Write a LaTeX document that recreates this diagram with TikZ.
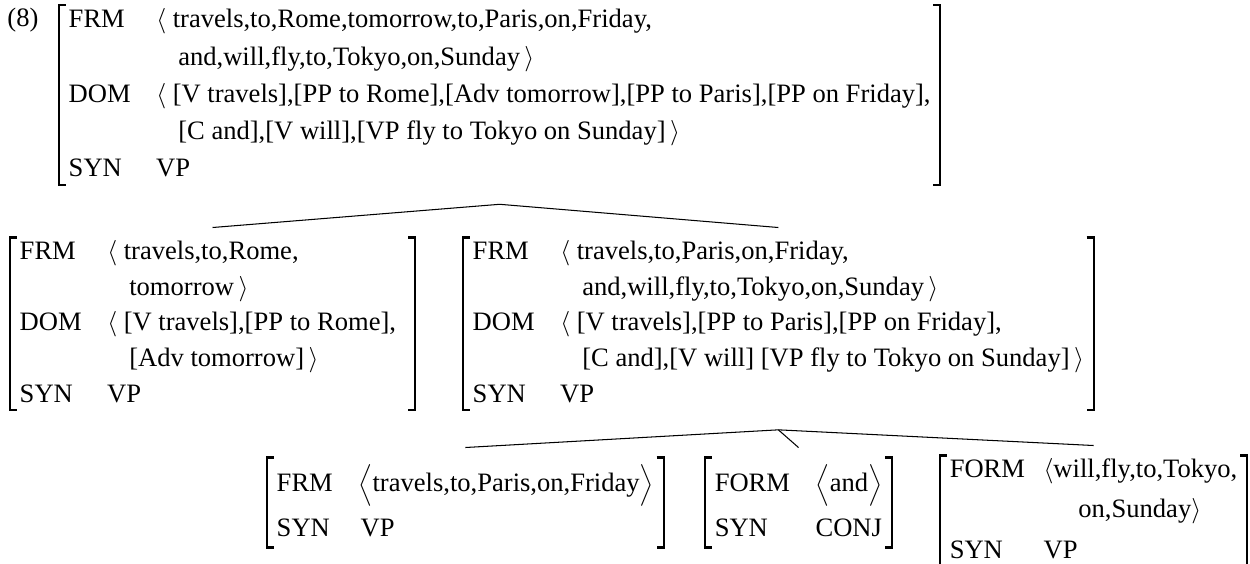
\documentclass[tikz,border=0pt]{standalone}
\usepackage{fontspec}
\setmainfont{Liberation Serif}
\newcommand{\avmfont}{\fontsize{11.45}{15.4}\selectfont}
\newcommand{\avmtopfont}{\fontsize{11.45}{16}\selectfont}
\tikzset{
  avm/.style={inner xsep=4pt, inner ysep=0pt, anchor=north west, font=\avmfont},
  txt/.style={anchor=base west, inner sep=0pt, font=\avmfont},
  brk/.style={line width=0.9pt},
  treeedge/.style={line width=0.45pt},
}
\newcommand{\avmbrk}[1]{%
  \draw[brk] ([xshift=3pt,yshift=-1.5pt]#1.north west) -- ([yshift=-1.5pt]#1.north west)
    -- ([yshift=1.5pt]#1.south west) -- ([xshift=3pt,yshift=1.5pt]#1.south west);
  \draw[brk] ([xshift=-3pt,yshift=-1.5pt]#1.north east) -- ([yshift=-1.5pt]#1.north east)
    -- ([yshift=1.5pt]#1.south east) -- ([xshift=-3pt,yshift=1.5pt]#1.south east);}
\begin{document}
\begin{tikzpicture}[x=0.431pt,y=-0.431pt]
\useasboundingbox (0,0) rectangle (1250,563);
% ---------- top AVM ----------
\node[txt] (num) at (7,26.5) {(8)};
\node[avm, font=\avmtopfont] (A) at (59,1.5) {\begin{tabular}{@{}l@{\hspace{11pt}}l@{}}
FRM & $\langle$ travels,to,Rome,tomorrow,to,Paris,on,Friday,\\
    & \hspace{9.5pt}and,will,fly,to,Tokyo,on,Sunday\,$\rangle$\\
DOM & $\langle$ [V travels],[PP to Rome],[Adv tomorrow],[PP to Paris],[PP on Friday],\\
    & \hspace{9.5pt}[C and],[V will],[VP fly to Tokyo on Sunday]\,$\rangle$\\
SYN & VP
\end{tabular}};
\avmbrk{A}
% ---------- second level ----------
\node[avm] (B) at (10,234) {\begin{tabular}{@{}l@{\hspace{11pt}}l@{\hspace{4pt}}}
FRM & $\langle$ travels,to,Rome,\\
    & \hspace{9.5pt}tomorrow\,$\rangle$\\
DOM & $\langle$ [V travels],[PP to Rome],\\
    & \hspace{9.5pt}[Adv tomorrow]\,$\rangle$\\
SYN & VP
\end{tabular}};
\avmbrk{B}
\node[avm] (C) at (463,234) {\begin{tabular}{@{}l@{\hspace{11pt}}l@{}}
FRM & $\langle$ travels,to,Paris,on,Friday,\\
    & \hspace{9.5pt}and,will,fly,to,Tokyo,on,Sunday\,$\rangle$\\
DOM & $\langle$ [V travels],[PP to Paris],[PP on Friday],\\
    & \hspace{9.5pt}[C and],[V will] [VP fly to Tokyo on Sunday]\,$\rangle$\\
SYN & VP
\end{tabular}};
\avmbrk{C}
% ---------- third level ----------
\node[avm] (D) at (267,454) {\begin{tabular}{@{}l@{\hspace{11pt}}l@{}}
FRM & \rule{0pt}{16pt}$\Big\langle$travels,to,Paris,on,Friday$\Big\rangle$\\[4pt]
SYN & \hspace{1pt}VP\rule[-6pt]{0pt}{6pt}
\end{tabular}};
\avmbrk{D}
\node[avm] (E) at (705,454) {\begin{tabular}{@{}l@{\hspace{11pt}}l@{}}
FORM & \rule{0pt}{16pt}$\Big\langle$and$\Big\rangle$\\[4pt]
SYN  & CONJ\rule[-6pt]{0pt}{6pt}
\end{tabular}};
\avmbrk{E}
\node[avm] (F) at (940,452) {\begin{tabular}{@{}l@{\hspace{8pt}}l@{}}
FORM & $\langle$will,fly,to,Tokyo,\\[2pt]
     & \hspace{15pt}on,Sunday$\rangle$\\[2pt]
SYN  & VP
\end{tabular}};
\avmbrk{F}
% ---------- tree edges ----------
\coordinate (apex1) at ([yshift=-7pt]A.south);
\coordinate (apex2) at ([yshift=-7pt]C.south);
\draw[treeedge] ([yshift=2.8pt]B.north) -- (apex1) -- ([yshift=2.8pt]C.north);
\draw[treeedge] ([yshift=2.8pt]D.north) -- (apex2) -- ([yshift=2.8pt]F.north);
\draw[treeedge] (apex2) -- ([yshift=2.8pt]E.north);
\end{tikzpicture}
\end{document}
